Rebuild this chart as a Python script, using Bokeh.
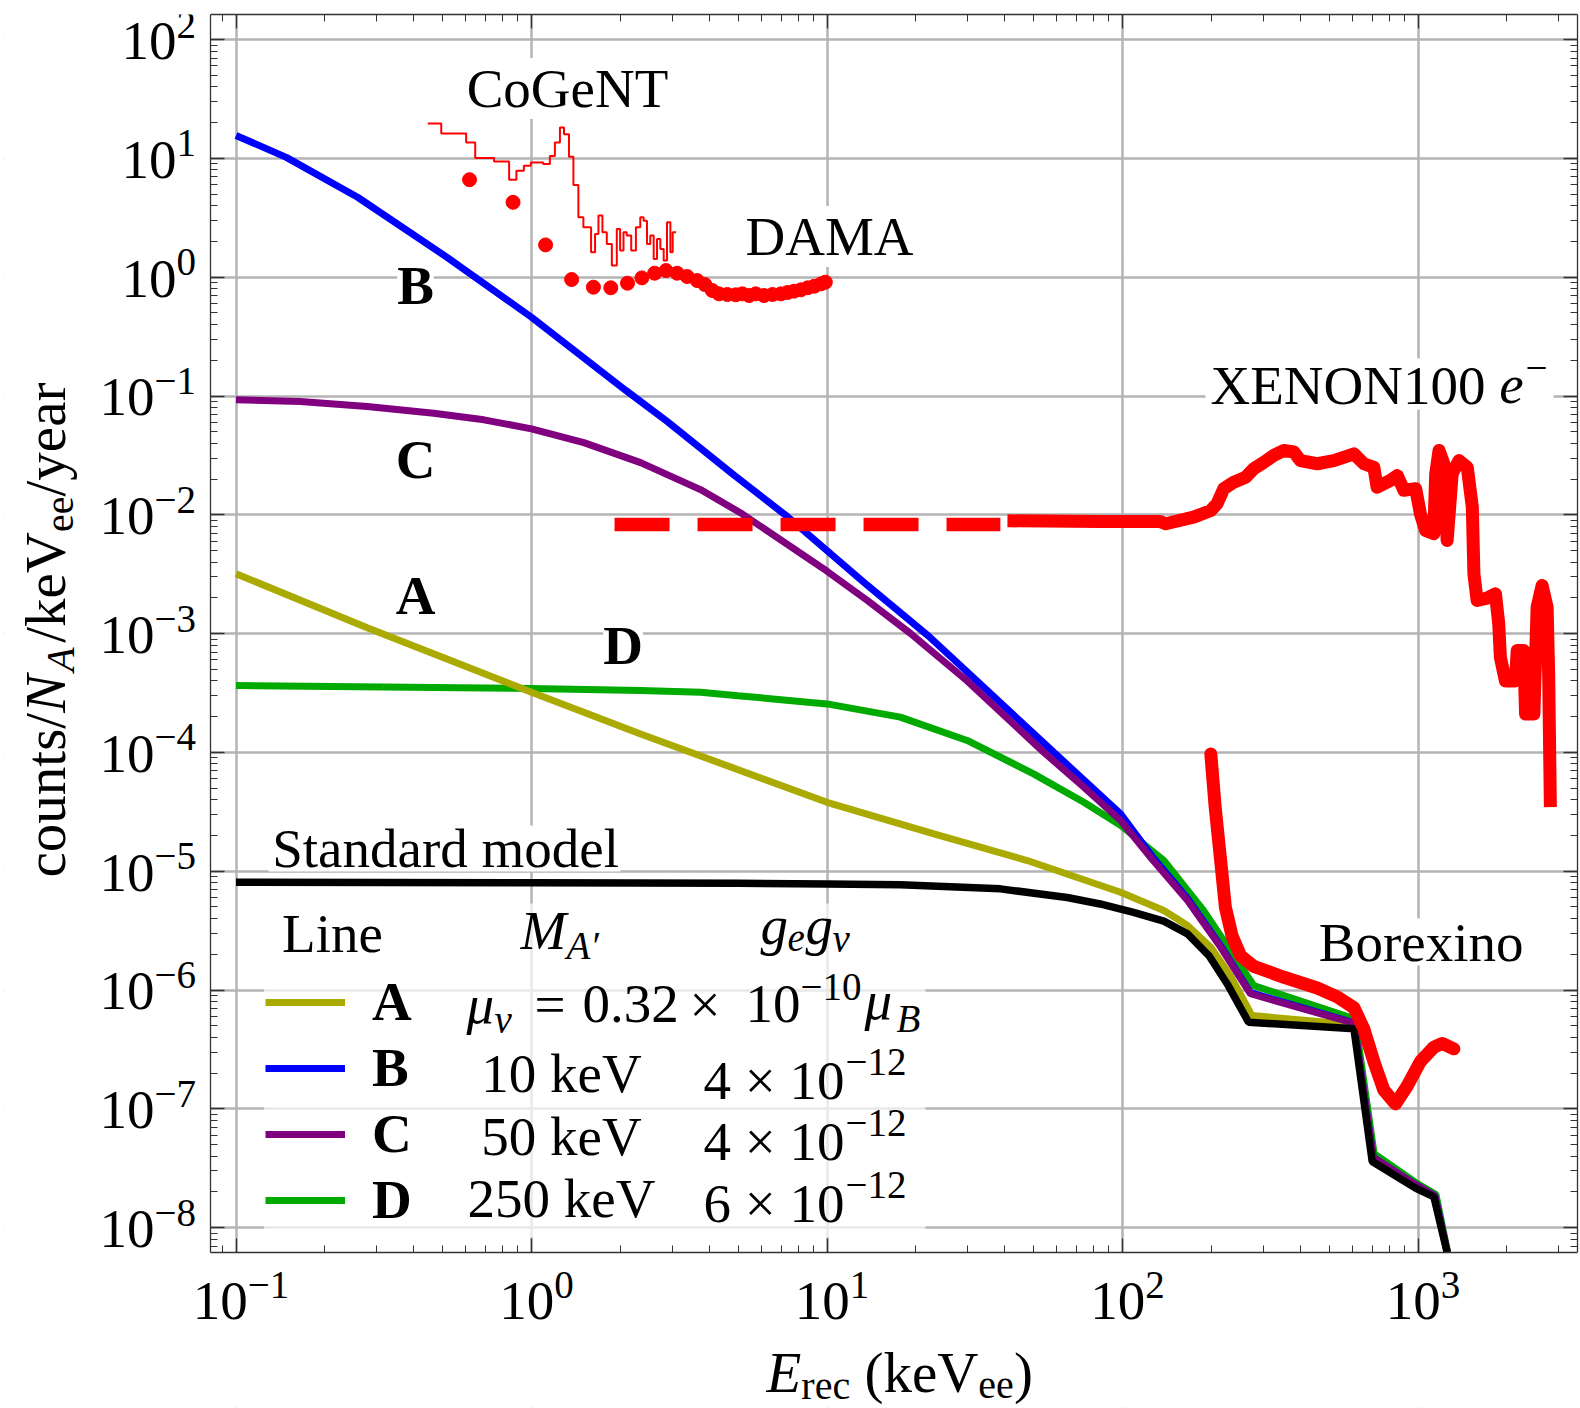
import math
from bokeh.plotting import figure
from bokeh.models import (Range1d, LogAxis, FixedTicker, Label, BoxAnnotation, Legend,
                          LegendItem, CustomJSTickFormatter)
from bokeh.embed import file_html
from bokeh.resources import INLINE

# ---------------- tick labels ----------------
x_major = [0.1, 1.0, 10.0, 100.0, 1000.0]
x_exp_labels = ["\u22121", "0", "1", "2", "3"]
y_major = [1e-8, 1e-7, 1e-6, 1e-5, 1e-4, 1e-3, 1e-2, 1e-1, 1e0, 1e1, 1e2]
y_exp_labels = ["\u22128", "\u22127", "\u22126", "\u22125", "\u22124", "\u22123",
                "\u22122", "\u22121", "0", "1", "2"]

# ---------------- model curves (E in keVee, counts/N_A/keVee/year) ----------------
E_A = [0.1, 0.278, 1.0, 2.34, 10.0, 23.0, 47.6, 98.5, 138.0, 166.0, 199.0, 232.0, 274.0,
       607.0, 702.0, 981.0, 1135.0, 1255.0]
V_A = [3.19e-3, 1.12e-3, 3.21e-4, 1.43e-4, 3.8e-5, 2.06e-5, 1.23e-5, 6.65e-6, 4.67e-6,
       3.49e-6, 2.29e-6, 1.32e-6, 6.1e-7, 5.1e-7, 3.7e-8, 2.2e-8, 1.83e-8, 6.2e-9]

E_B = [0.1, 0.148, 0.258, 0.518, 1.0, 2.08, 2.88, 4.84, 7.33, 10.0, 13.7, 22.1, 58.6, 98.5,
       127.0, 166.0, 215.0, 271.0, 607.0, 705.0, 981.0, 1140.0, 1257.0]
V_B = [15.6, 10.2, 4.71, 1.47, 0.46, 0.112, 0.061, 0.0216, 9.7e-3, 5.0e-3, 2.55e-3, 9.5e-4,
       1.0e-4, 3.04e-5, 1.3e-5, 5.9e-6, 2.35e-6, 9.5e-7, 5.3e-7, 3.9e-8, 2.3e-8, 1.85e-8,
       6.2e-9]

E_C = [0.1, 0.165, 0.278, 0.467, 0.69, 1.0, 1.503, 2.34, 3.73, 5.16, 10.0, 13.7, 19.2, 29.8,
       54.2, 74.0, 98.5, 127.0, 166.0, 215.0, 271.0, 607.0, 705.0, 981.0, 1140.0, 1257.0]
V_C = [0.093, 0.0899, 0.0816, 0.0717, 0.063, 0.0529, 0.0405, 0.0275, 0.0163, 0.0102, 3.35e-3,
       1.9e-3, 1.0e-3, 4.0e-4, 1.0e-4, 5.1e-5, 2.67e-5, 1.23e-5, 5.66e-6, 2.29e-6, 9.3e-7,
       5.25e-7, 3.9e-8, 2.3e-8, 1.85e-8, 6.2e-9]

E_D = [0.1, 0.316, 1.0, 2.34, 3.73, 5.0, 10.0, 17.7, 29.8, 50.0, 74.0, 98.5, 138.0, 188.0,
       232.0, 278.0, 612.0, 710.0, 981.0, 1150.0, 1260.0]
V_D = [3.66e-4, 3.55e-4, 3.45e-4, 3.32e-4, 3.21e-4, 3.0e-4, 2.56e-4, 1.98e-4, 1.26e-4,
       6.6e-5, 3.8e-5, 2.43e-5, 1.23e-5, 4.67e-6, 2.14e-6, 1.09e-6, 5.7e-7, 4.2e-8, 2.4e-8,
       1.9e-8, 6.2e-9]

E_SM = [0.1, 1.0, 5.0, 10.0, 17.7, 38.6, 65.0, 84.0, 109.0, 138.0, 166.0, 196.0, 226.0,
        267.0, 607.0, 700.0, 981.0, 1132.0, 1255.0]
V_SM = [8.07e-6, 8.0e-6, 7.9e-6, 7.8e-6, 7.7e-6, 7.1e-6, 6.0e-6, 5.3e-6, 4.5e-6, 3.8e-6,
        2.97e-6, 1.95e-6, 1.13e-6, 5.36e-7, 4.71e-7, 3.6e-8, 2.15e-8, 1.81e-8, 6.2e-9]

# ---------------- experiments ----------------
cogent_edges = [0.4456, 0.495, 0.601, 0.645, 0.747, 0.840, 0.889, 0.942, 0.995, 1.095,
                1.154, 1.200, 1.248, 1.288, 1.339, 1.386, 1.441, 1.498, 1.591, 1.641,
                1.685, 1.738, 1.798, 1.870, 1.944, 1.995, 2.048, 2.10, 2.175, 2.256,
                2.334, 2.395, 2.459, 2.523, 2.591, 2.659, 2.729, 2.801, 2.875, 2.951,
                3.005, 3.085]
cogent_vals = [19.7, 16.2, 13.6, 10.1, 9.43, 6.62, 7.87, 8.67, 9.25, 8.96, 10.5, 13.6,
               18.2, 16.0, 10.3, 5.97, 3.19, 2.63, 1.62, 2.31, 3.30, 2.39, 1.905, 1.253,
               2.55, 1.675, 2.39, 2.24, 1.675, 2.63, 3.19, 2.99, 1.905, 2.24, 1.426, 2.10,
               1.73, 1.38, 2.90, 1.62, 2.39]

dama_E = [0.617, 0.866, 1.116, 1.367, 1.62, 1.855, 2.113, 2.364, 2.611, 2.853, 3.11, 3.363,
          3.636, 3.86, 4.09, 4.31, 4.60, 4.91, 5.17, 5.45, 5.74, 6.12, 6.54, 6.98, 7.35,
          7.74, 8.16, 8.6, 9.06, 9.55, 9.87]
dama_V = [6.62, 4.27, 1.87, 0.956, 0.824, 0.814, 0.890, 0.987, 1.08, 1.138, 1.08, 1.013,
          0.937, 0.868, 0.773, 0.724, 0.715, 0.711, 0.724, 0.701, 0.724, 0.701, 0.715,
          0.724, 0.743, 0.763, 0.783, 0.814, 0.840, 0.879, 0.908]

xenon_dash_E = [1.91, 38.6]
xenon_dash_V = [8.3e-3, 8.3e-3]
xenon_E = [40.8, 84.2, 134, 140, 174, 199, 209, 220, 238, 261, 278, 301, 325, 352, 380, 400,
           456, 519, 607, 656, 709, 727, 807, 851, 896, 982, 1019, 1060, 1131, 1148, 1178,
           1223, 1255, 1305, 1375, 1468, 1527, 1546, 1585, 1713, 1829, 1876, 1900, 1976,
           2137, 2166, 2281, 2312, 2467, 2530, 2630, 2735, 2768, 2805]
xenon_V = [8.9e-3, 8.79e-3, 8.79e-3, 8.4e-3, 9.55e-3, 0.01087, 0.0124, 0.01656, 0.01882,
           0.0207, 0.0244, 0.0277, 0.0316, 0.0348, 0.0338, 0.0286, 0.0269, 0.0286, 0.0326,
           0.0269, 0.0251, 0.0171, 0.0195, 0.0214, 0.0161, 0.0166, 0.0102, 7.38e-3, 6.92e-3,
           0.0221, 0.0348, 0.0269, 6.08e-3, 0.0221, 0.0286, 0.0251, 0.0116, 3.19e-3, 1.9e-3,
           1.99e-3, 2.16e-3, 1.21e-3, 6.3e-4, 4.0e-4, 4.0e-4, 7.2e-4, 7.2e-4, 2.1e-4, 2.1e-4,
           1.67e-3, 2.54e-3, 1.67e-3, 4.6e-4, 3.46e-5]

borexino_E = [199, 206, 215, 223, 235, 251, 278, 352, 456, 533, 607, 656, 709, 766, 839,
              919, 1019, 1131, 1208, 1322]
borexino_V = [9.7e-5, 3.4e-5, 1.21e-5, 4.94e-6, 2.84e-6, 1.94e-6, 1.58e-6, 1.28e-6, 1.04e-6,
              8.75e-7, 7.1e-7, 4.69e-7, 2.5e-7, 1.44e-7, 1.1e-7, 1.55e-7, 2.5e-7, 3.3e-7,
              3.55e-7, 3.2e-7]

# legend table texts
legend_letters = ["A", "B", "C", "D"]
legend_masses = ["", "10 keV", "50 keV", "250 keV"]
legend_coupling_base = ["", "4 \u00d7 10", "4 \u00d7 10", "6 \u00d7 10"]
legend_coupling_exp = ["", "\u221212", "\u221212", "\u221212"]

# ---------------- layout ----------------
FONT = "Liberation Serif"
W, H = 1580, 1408
# canvas frame (whole drawing area, labels live inside it)
CL, CR, CT, CB = 4, 1577, 14, 1407
# visible plot box (where the axes are drawn)
BL, BR, BT, BB = 210.0, 1577.0, 14.0, 1252.0
# pixel <-> log mapping
X0PX, XDEC = 531.0, 295.5
Y0PX, YDEC = 276.7, 118.8

def dx(px):
    return 10 ** ((px - X0PX) / XDEC)

def dy(py):
    return 10 ** ((Y0PX - py) / YDEC)

def px_of_x(v):
    return X0PX + XDEC * math.log10(v)

def py_of_y(v):
    return Y0PX - YDEC * math.log10(v)

WID = {' ': .25, '(': .333, ')': .333, '/': .278, '.': .25, '=': .564, '\u00d7': .564,
       '\u2212': .564, 'a': .444, 'c': .444, 'd': .5, 'e': .444, 'i': .278, 'k': .5,
       'l': .278, 'm': .778, 'n': .5, 'o': .5, 'r': .333, 's': .389, 't': .278, 'u': .5,
       'x': .5, 'y': .5, 'g': .5, 'A': .722, 'B': .667, 'C': .667, 'D': .722, 'E': .611,
       'G': .722, 'L': .611, 'M': .889, 'N': .722, 'O': .722, 'S': .556, 'T': .611,
       'V': .722, 'X': .722, '\u03bc': .5, '\u03bd': .444, '\u2032': .275}

def tw(s, size):
    return sum(WID.get(ch, 0.5) for ch in s) * size

p = figure(width=W, height=H, x_axis_type="log", y_axis_type="log",
           x_range=Range1d(dx(CL), dx(CR)), y_range=Range1d(dy(CB), dy(CT)),
           output_backend="svg", toolbar_location=None, title=None,
           min_border_left=CL, min_border_right=W - CR,
           min_border_top=CT, min_border_bottom=H - CB)
p.background_fill_color = "white"
p.border_fill_color = "white"
p.outline_line_color = None

XB = (dx(BL), dx(BR))
YB = (dy(BB), dy(BT))
xt = FixedTicker(ticks=x_major,
                 minor_ticks=[m * 10.0 ** k for k in range(-2, 4) for m in range(2, 10)
                              if XB[0] <= m * 10.0 ** k <= XB[1]])
yt = FixedTicker(ticks=y_major,
                 minor_ticks=[m * 10.0 ** k for k in range(-9, 3) for m in range(2, 10)
                              if YB[0] <= m * 10.0 ** k <= YB[1]])

top_ax = LogAxis()
right_ax = LogAxis()
p.add_layout(top_ax, "above")
p.add_layout(right_ax, "right")
bottom_ax = p.below[0]
left_ax = p.left[0]
bottom_ax.fixed_location = dy(BB)
left_ax.fixed_location = dx(BL)
for ax, tk, bd in [(bottom_ax, xt, XB), (top_ax, xt, XB), (left_ax, yt, YB), (right_ax, yt, YB)]:
    ax.ticker = tk
    ax.bounds = bd
    ax.formatter = CustomJSTickFormatter(code="return '';")
    ax.major_tick_in = 14
    ax.major_tick_out = 0
    ax.minor_tick_in = 7
    ax.minor_tick_out = 0
    ax.major_label_text_font_size = "1px"
    ax.major_label_standoff = 0
    ax.axis_line_color = "#333333"
    ax.axis_line_width = 1.3
    ax.major_tick_line_color = "#333333"
    ax.major_tick_line_width = 1.3
    ax.minor_tick_line_color = "#333333"
    ax.minor_tick_line_width = 1.0

p.xgrid.ticker = xt
p.ygrid.ticker = yt
p.grid.grid_line_color = "#b4b4b4"
p.grid.grid_line_width = 2.5

# hide grid lines outside the plot box (margins that hold the tick labels)
p.add_layout(BoxAnnotation(left=dx(CL), right=dx(BL), bottom=dy(CB), top=dy(CT),
                           fill_color="white", fill_alpha=1.0, line_color=None,
                           level="underlay"))
p.add_layout(BoxAnnotation(left=dx(CL), right=dx(CR), bottom=dy(CB), top=dy(BB),
                           fill_color="white", fill_alpha=1.0, line_color=None,
                           level="underlay"))
# legend background (semi transparent white)
p.add_layout(BoxAnnotation(left=dx(263.6), right=dx(925), top=dy(903), bottom=dy(1237),
                           fill_color="white", fill_alpha=0.7, line_color=None,
                           level="underlay"))

# ---------------- curves ----------------
LW = 7
rD = p.line(E_D, V_D, line_color="#00aa00", line_width=LW)
rA = p.line(E_A, V_A, line_color="#aaaa00", line_width=LW)
rB = p.line(E_B, V_B, line_color="#0000ff", line_width=LW)
rC = p.line(E_C, V_C, line_color="#800080", line_width=LW)
p.line(E_SM, V_SM, line_color="black", line_width=7.5)

# CoGeNT histogram
cg_x, cg_y = [], []
for i, v in enumerate(cogent_vals):
    cg_x += [cogent_edges[i], cogent_edges[i + 1]]
    cg_y += [v, v]
p.line(cg_x, cg_y, line_color="red", line_width=2)

# DAMA
p.scatter(dama_E, dama_V, size=14, marker="circle", fill_color="red", line_color="red")

# XENON100
p.line(xenon_dash_E, xenon_dash_V, line_color="red", line_width=13.5, line_dash="55 28",
       line_cap="butt")
p.line(xenon_E, xenon_V, line_color="red", line_width=13, line_join="round")

# Borexino
p.line(borexino_E, borexino_V, line_color="red", line_width=13, line_join="round",
       line_cap="round")

# ---------------- text helpers ----------------
SHIFT = 0.31   # baseline correction, fraction of font size

def put(text, px, py, size=55, style="normal", align="left", bg=False, angle=0.0):
    if angle == 0.0:
        ax_, ay_ = px, py - SHIFT * size
    else:
        ax_, ay_ = px - SHIFT * size, py
    lab = Label(x=dx(ax_), y=dy(ay_), text=text, text_font=FONT,
                text_font_size=f"{size}px", text_font_style=style, text_align=align,
                text_baseline="alphabetic", text_color="black", angle=angle)
    if bg:
        lab.background_fill_color = "white"
    p.add_layout(lab)

def white_box(l, r, t, b):
    p.add_layout(BoxAnnotation(left=dx(l), right=dx(r), top=dy(t), bottom=dy(b),
                               fill_color="white", fill_alpha=1.0, line_color=None))

# tick labels
for t, e in zip(x_major, x_exp_labels):
    we = tw(e, 39)
    left = px_of_x(t) - (55 + we) / 2 + 5
    put("10", left, 1318)
    put(e, left + 55, 1296.5, size=39)
for t, e in zip(y_major, y_exp_labels):
    we = tw(e, 39)
    py = py_of_y(t)
    put(e, 195.5, py - 3, size=39, align="right")
    put("10", 195.5 - we, py + 18.5, align="right")

# axis titles (SVG collapses leading blanks, so gaps are added as offsets)
xsegs = [("E", 57, "italic", 0, 0.0), ("rec", 40, "normal", 7, 0.0),
         ("(keV", 57, "normal", 0, 0.25 * 57), ("ee", 40, "normal", 7, 0.0),
         (")", 57, "normal", 0, 0.0)]
cx = 766.0
for s, sz, st, d, gap in xsegs:
    cx += gap
    put(s, cx, 1390 + d, size=sz, style=st)
    cx += tw(s, sz)

ysegs = [("counts/", 57, "normal", 0), ("N", 57, "italic", 0), ("A", 40, "italic", 9),
         ("/keV", 57, "normal", 0), ("ee", 40, "normal", 9), ("/year", 57, "normal", 0)]
cy = 877.0
for s, sz, st, d in ysegs:
    put(s, 63 + d, cy, size=sz, style=st, angle=math.pi / 2)
    cy -= tw(s, sz)

# in-plot labels (white backgrounds cut the grid lines as in the original)
white_box(268, 620, 825, 871)
put("Standard model", 271.7, 865)
put("CoGeNT", 567, 105, align="center", bg=True)
put("DAMA", 829, 253, align="center", bg=True)
put("B", 415, 301.7, style="bold", align="center", bg=True)
put("C", 415, 476, style="bold", align="center", bg=True)
put("A", 415, 611.7, style="bold", align="center", bg=True)
put("D", 622.5, 661.7, style="bold", align="center", bg=True)
white_box(1313, 1528, 918, 965)
put("Borexino", 1318.3, 959)
white_box(1205, 1553, 358, 409)
put("XENON100", 1210, 401.7)
put("e", 1210 + tw("XENON100 ", 55), 401.7, style="italic")
put("\u2212", 1210 + tw("XENON100 e", 55) + 2, 380, size=39)

# legend (swatch + letter) using bokeh's Legend
LEG_LEFT, LEG_BOTTOM = 265, 1231
legend = Legend(items=[LegendItem(label=l, renderers=[r])
                       for l, r in zip(legend_letters, [rA, rB, rC, rD])],
                location=(LEG_LEFT - CL, CB - LEG_BOTTOM), orientation="vertical",
                glyph_width=80, glyph_height=62, label_height=62, label_standoff=27,
                spacing=3, padding=0, margin=0, background_fill_alpha=0,
                border_line_color=None, label_text_font=FONT, label_text_color="black",
                label_text_font_size="55px", label_text_font_style="bold")
p.add_layout(legend)

# legend table: header
put("Line", 332, 950, align="center")
put("M", 520, 947, style="italic")
put("A\u2032", 566, 957, size=39, style="italic")
put("g", 760, 942, style="italic")
put("e", 787, 950, size=39, style="italic")
put("g", 805, 942, style="italic")
put("\u03bd", 832, 950, size=39, style="italic")

# row A: magnetic moment
put("\u03bc", 466, 1021, style="italic")
put("\u03bd", 494, 1031, size=39, style="italic")
put("=", 534, 1021)
put("0.32", 582, 1021)
put("\u00d7", 689, 1021)
put("10", 745, 1021)
put("\u221210", 800, 999, size=39)
put("\u03bc", 864, 1017, style="italic")
put("B", 896, 1030, size=39, style="italic")

# rows B, C, D
row_base = [None, 1090, 1153, 1215]
row_base2 = [None, 1097, 1158, 1220]
for i in range(1, 4):
    put(legend_masses[i], 561, row_base[i], align="center")
    put(legend_coupling_base[i], 703, row_base2[i])
    put(legend_coupling_exp[i], 703 + tw(legend_coupling_base[i], 55) + 1,
        row_base2[i] - 23, size=39)

open("out.html", "w").write(file_html(p, INLINE))
